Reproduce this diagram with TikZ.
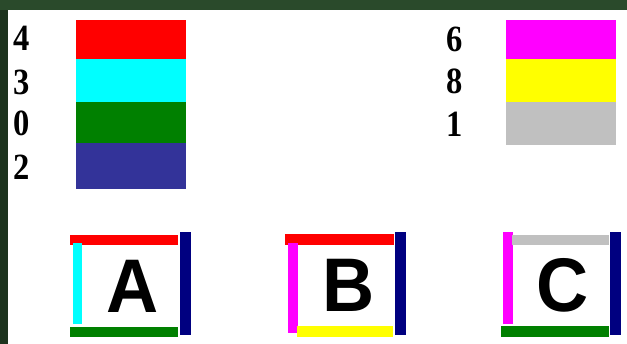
\documentclass[tikz,border=0pt]{standalone}
\usepackage{fontspec}
\setmainfont{Liberation Serif}
\newfontfamily\capsfont{Liberation Sans}
\definecolor{frametop}{HTML}{2A4A2B}
\definecolor{frameleft}{HTML}{1D331E}
\definecolor{swred}{HTML}{FF0000}
\definecolor{swcyan}{HTML}{00FFFF}
\definecolor{swgreen}{HTML}{008000}
\definecolor{swblue}{HTML}{333399}
\definecolor{swmagenta}{HTML}{FF00FF}
\definecolor{swyellow}{HTML}{FFFF00}
\definecolor{swgray}{HTML}{C0C0C0}
\definecolor{swnavy}{HTML}{000080}

\begin{document}
\begin{tikzpicture}[x=1pt,y=-1pt,
    num/.style={inner sep=0pt,xscale=0.88,font=\bfseries\fontsize{37}{37}\selectfont},
    lett/.style={inner sep=0pt,xscale=0.95,font=\capsfont\bfseries\fontsize{76}{76}\selectfont}
]
% frame
\fill[frametop] (0,0) rectangle (627,344);
\fill[frameleft] (0,10) rectangle (8,344);
\fill[white] (8,10) rectangle (627,344);
\useasboundingbox (0,0) rectangle (627,344);

% left column of swatches
\fill[swred] (76,20) rectangle (186,59);
\fill[swcyan] (76,59) rectangle (186,102);
\fill[swgreen] (76,102) rectangle (186,143);
\fill[swblue] (76,143) rectangle (186,189);
\node[num] (n4) at (22,38) {4};
\node[num] (n3) at (22,82) {3};
\node[num] (n0) at (22,123) {0};
\node[num] (n2) at (22,167) {2};

% right column of swatches
\fill[swmagenta] (506,20) rectangle (616,59);
\fill[swyellow] (506,59) rectangle (616,102);
\fill[swgray] (506,102) rectangle (616,145);
\node[num] (n6) at (455,39) {6};
\node[num] (n8) at (455,81) {8};
\node[num] (n1) at (455,124) {1};

% square A
\fill[swred] (70,235) rectangle (178,245);
\fill[swcyan] (73,243) rectangle (82,324);
\fill[swgreen] (70,327) rectangle (178,337);
\fill[swnavy] (180,232) rectangle (191,335);
\node[lett] (A) at (133,286) {A};

% square B
\fill[swred] (285,234) rectangle (394,245);
\fill[swmagenta] (288,243) rectangle (298,333);
\fill[swyellow] (297,326) rectangle (393,337);
\fill[swnavy] (395,232) rectangle (406,335);
\node[lett] (B) at (349,285) {B};

% square C
\fill[swmagenta] (503,232) rectangle (513,324);
\fill[swgray] (512,235) rectangle (609,245);
\fill[swgreen] (501,326) rectangle (609,337);
\fill[swnavy] (610,232) rectangle (621,335);
\node[lett] (C) at (563,285) {C};
\end{tikzpicture}
\end{document}
